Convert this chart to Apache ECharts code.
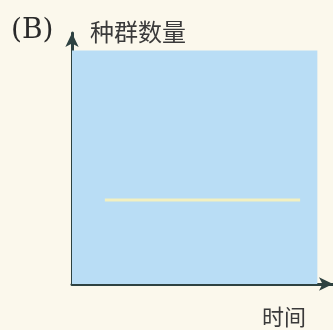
<!DOCTYPE html>
<html>
<head>
<meta charset="utf-8">
<script src="https://cdn.jsdelivr.net/npm/echarts@6/dist/echarts.min.js"></script>
<style>
  html, body { margin: 0; padding: 0; background: #fbf8ec; }
  #chart { width: 333px; height: 330px; }
</style>
</head>
<body>
<div id="chart"></div>
<script>
// population region (blue area) and the constant level line
var areaTime = [0, 94];
var areaLevel = [93, 93];
var lineTime = [12.6, 87.4];
var lineLevel = [33.5, 33.5];

var chart = echarts.init(document.getElementById('chart'));
var axisColor = '#2e4241';

var option = {
    backgroundColor: '#fbf8ec',
    animation: false,
    grid: { left: 72, right: 0, top: 33, bottom: 46 },
    xAxis: {
        type: 'value', min: 0, max: 100,
        axisLine: { show: true, symbol: ['none', 'arrow'], symbolSize: [10, 14], lineStyle: { color: axisColor, width: 3 } },
        axisTick: { show: false }, axisLabel: { show: false }, splitLine: { show: false }
    },
    yAxis: {
        type: 'value', min: 0, max: 100,
        axisLine: { show: true, symbol: ['none', 'arrow'], symbolSize: [10, 14], lineStyle: { color: axisColor, width: 3 } },
        axisTick: { show: false }, axisLabel: { show: false }, splitLine: { show: false }
    },
    series: [
        {
            type: 'line',
            data: areaTime.map(function (t, i) { return [t, areaLevel[i]]; }),
            symbol: 'none',
            lineStyle: { width: 0 },
            areaStyle: { color: '#b9ddf5', opacity: 1 },
            z: 1
        },
        {
            type: 'line',
            data: lineTime.map(function (t, i) { return [t, lineLevel[i]]; }),
            symbol: 'none',
            lineStyle: { color: '#f2f0c0', width: 3 },
            z: 2
        }
    ],
    graphic: [
        { type: 'text', left: 11, top: 17, style: { text: '(B)', font: '28px "DejaVu Serif"', fill: '#2a2a2a' } },
        { type: 'text', left: 90, top: 20, style: { text: '种群数量', font: '24px "Noto Sans CJK SC"', fill: '#3a3a3a' } },
        { type: 'text', left: 262, top: 306, style: { text: '时间', font: '22px "Noto Sans CJK SC"', fill: '#3a3a3a' } }
    ]
};
chart.setOption(option);
</script>
</body>
</html>
